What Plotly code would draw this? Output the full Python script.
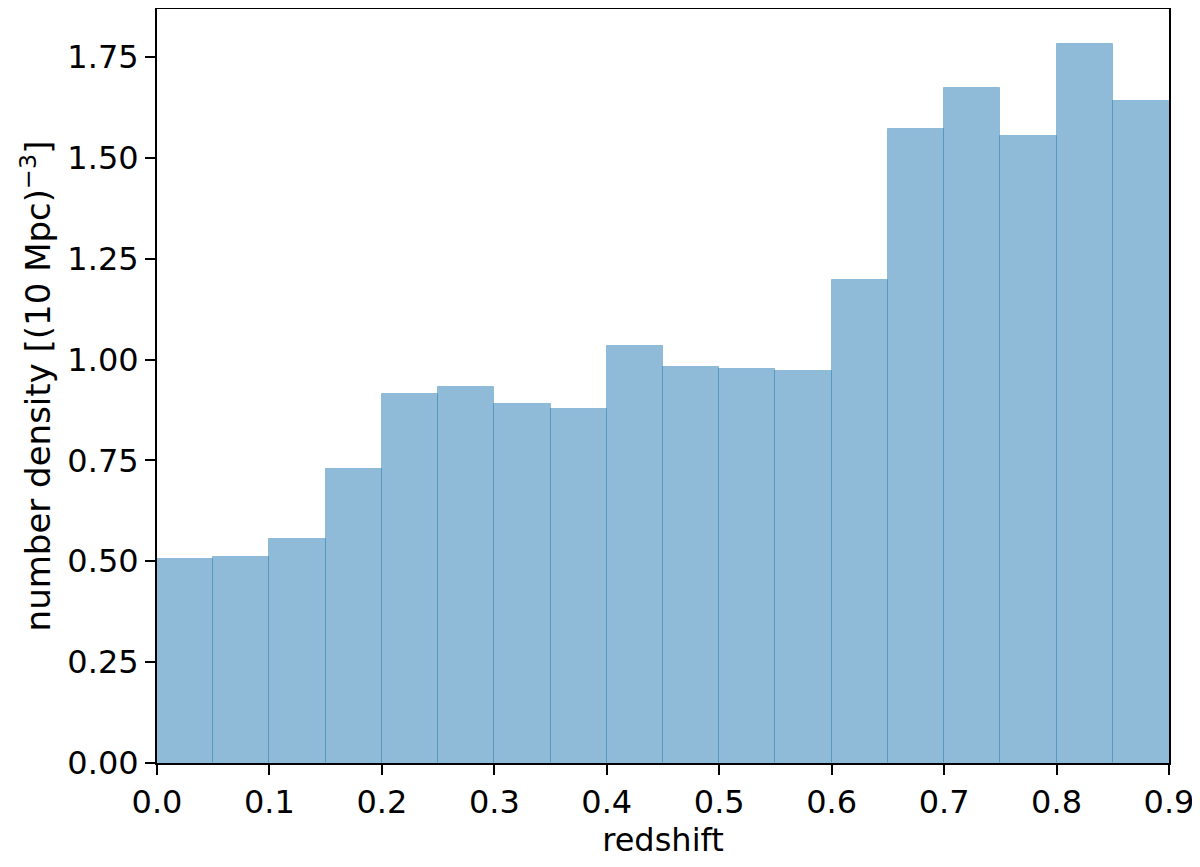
import plotly.graph_objects as go

bin_left = [0.00, 0.05, 0.10, 0.15, 0.20, 0.25, 0.30, 0.35, 0.40,
            0.45, 0.50, 0.55, 0.60, 0.65, 0.70, 0.75, 0.80, 0.85]
density = [0.506, 0.510, 0.555, 0.728, 0.915, 0.932, 0.889, 0.877, 1.034,
           0.982, 0.976, 0.971, 1.197, 1.572, 1.672, 1.553, 1.782, 1.642]
bin_width = 0.05
x_ticks = [0.0, 0.1, 0.2, 0.3, 0.4, 0.5, 0.6, 0.7, 0.8, 0.9]
y_ticks = [0.0, 0.25, 0.5, 0.75, 1.0, 1.25, 1.5, 1.75]

centers = [b + bin_width / 2 for b in bin_left]

fig = go.Figure()
fig.add_trace(go.Bar(
    x=centers, y=density, width=[bin_width] * len(centers),
    marker=dict(color="rgba(31,119,180,0.5)",
                line=dict(color="rgba(31,119,180,0.35)", width=1)),
    showlegend=False,
))

tick_font = dict(family="DejaVu Sans", size=32, color="black")
title_font = dict(family="DejaVu Sans", size=34, color="black")
fig.update_layout(
    width=1192, height=859,
    margin=dict(l=149, r=31, t=1, b=104, autoexpand=False),
    plot_bgcolor="white", paper_bgcolor="white",
    bargap=0,
    font=tick_font,
    xaxis=dict(
        range=[0, 0.9], tickvals=x_ticks,
        ticktext=[f"{v:.1f}" for v in x_ticks],
        ticks="outside", ticklen=10, tickwidth=2, tickcolor="black",
        showline=True, linecolor="black", linewidth=2, mirror=True,
        showgrid=False, zeroline=False, automargin=False,
        title=dict(text="redshift", font=tick_font, standoff=6),
        tickfont=tick_font,
    ),
    yaxis=dict(
        range=[0, 1.869], tickvals=y_ticks,
        ticktext=[f"{v:.2f}" for v in y_ticks],
        ticks="outside", ticklen=10, tickwidth=2, tickcolor="black",
        showline=True, linecolor="black", linewidth=2, mirror=True,
        showgrid=False, zeroline=False, automargin=False,
        title=dict(text="number density [(10 Mpc)<sup>−3</sup>]", font=title_font, standoff=6),
        tickfont=tick_font,
    ),
)

fig.write_html("out.html")
